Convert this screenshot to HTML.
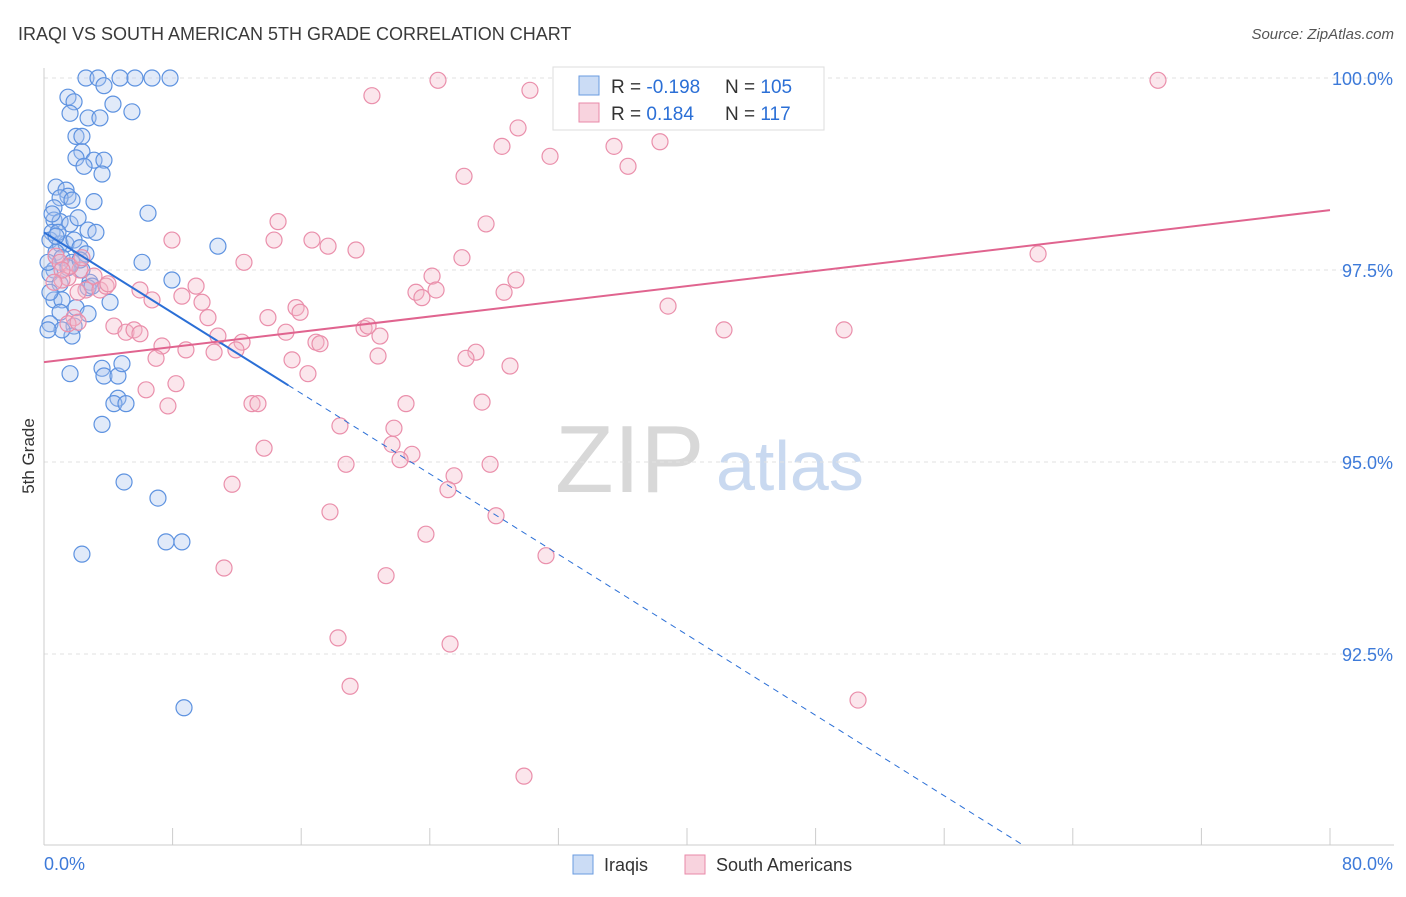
<!DOCTYPE html>
<html><head><meta charset="utf-8"><style>
body{margin:0;background:#fff;font-family:"Liberation Sans",sans-serif;}
svg text{font-family:"Liberation Sans",sans-serif;}
</style></head><body>
<svg id="chart" width="1406" height="892" viewBox="0 0 1406 892" xmlns="http://www.w3.org/2000/svg">
<text x="18" y="40" font-size="18" fill="#3a3a3a">IRAQI VS SOUTH AMERICAN 5TH GRADE CORRELATION CHART</text>
<text x="1394" y="39" font-size="15" fill="#555" font-style="italic" text-anchor="end">Source: ZipAtlas.com</text>
<text x="34" y="456" font-size="17" fill="#333" transform="rotate(-90 34 456)" text-anchor="middle">5th Grade</text>
<g>
<text x="555" y="492" font-size="96" fill="#d8d8d8" font-family="Liberation Serif,serif">ZIP</text>
<text x="716" y="490" font-size="70" fill="#c9d9f0">atlas</text>
</g>
<g id="grid"></g><g id="axes"></g><g id="pts"></g><g id="trend"></g>
<g>
<rect x="553" y="67" width="271" height="63" fill="#fff" stroke="#ddd"/>
<rect x="579" y="76" width="20" height="19" fill="#a9c4ee" fill-opacity="0.6" stroke="#6a9be0"/>
<text x="611" y="93" font-size="19" fill="#333">R = <tspan fill="#2b6fd6">-0.198</tspan></text>
<text x="725" y="93" font-size="19" fill="#333">N = <tspan fill="#2b6fd6">105</tspan></text>
<rect x="579" y="103" width="20" height="19" fill="#f4b6c8" fill-opacity="0.6" stroke="#e98aa8"/>
<text x="611" y="120" font-size="19" fill="#333">R = <tspan fill="#2b6fd6"> 0.184</tspan></text>
<text x="725" y="120" font-size="19" fill="#333">N = <tspan fill="#2b6fd6"> 117</tspan></text>
</g>
<g>
<rect x="573" y="855" width="20" height="19" fill="#a9c4ee" fill-opacity="0.6" stroke="#6a9be0"/>
<text x="604" y="871" font-size="18" fill="#333">Iraqis</text>
<rect x="685" y="855" width="20" height="19" fill="#f4b6c8" fill-opacity="0.6" stroke="#e98aa8"/>
<text x="716" y="871" font-size="18" fill="#333">South Americans</text>
</g>
</svg>
<script>
const yTicks=[100,97.5,95,92.5];
const yTickLabels=["100.0%","97.5%","95.0%","92.5%"];
const xTickValues=[0,8,16,24,32,40,48,56,64,72,80];
const xEndLabels=["0.0%","80.0%"];
const iraqiX=[2.61,3.36,4.73,5.66,6.72,7.84,3.73,1.49,1.87,4.29,5.47,1.62,2.74,3.48,1.99,2.36,2.36,1.99,3.11,3.73,2.49,3.61,0.75,1.37,1.49,1.00,1.74,3.11,6.47,0.62,0.62,1.00,1.62,2.12,2.74,3.23,0.50,0.37,1.00,1.37,1.87,2.24,2.61,0.75,1.12,1.74,2.36,0.62,0.37,2.86,6.10,7.96,10.82,1.00,2.74,4.11,0.62,1.12,0.37,1.99,2.74,1.00,0.37,1.87,1.74,1.12,0.25,1.62,3.61,3.73,4.60,4.85,4.60,4.35,5.10,3.61,4.98,7.09,7.59,8.58,2.36,8.71,0.50,0.87,1.49,2.24,2.99,0.25,0.75];
const iraqiY=[100,100,100,100,100,100,99.90,99.75,99.69,99.66,99.56,99.54,99.48,99.48,99.24,99.24,99.04,98.96,98.93,98.93,98.85,98.75,98.58,98.54,98.46,98.44,98.41,98.39,98.24,98.31,98.15,98.13,98.10,98.18,98.02,97.99,97.99,97.89,97.84,97.84,97.89,97.79,97.71,97.73,97.66,97.60,97.50,97.50,97.45,97.34,97.60,97.37,97.81,97.32,97.27,97.08,97.11,97.11,97.21,97.01,96.93,96.95,96.80,96.77,96.64,96.72,96.72,96.15,96.22,96.12,96.12,96.28,95.83,95.76,95.76,95.49,94.74,94.53,93.96,93.96,93.80,91.80,98.23,97.99,97.53,97.63,97.29,97.60,97.94];
const saX=[24.51,32.60,69.30,35.33,37.33,30.23,20.40,40.44,29.49,28.49,31.48,35.46,38.32,36.33,26.13,27.50,14.56,14.31,16.67,7.96,17.67,19.41,12.44,26.00,61.84,24.14,29.36,23.14,24.39,28.62,23.51,9.46,8.58,9.83,6.72,15.68,15.93,13.93,10.20,38.82,42.30,49.77,19.91,20.16,20.90,15.05,16.92,17.17,10.82,12.32,4.35,5.10,5.60,5.97,7.34,8.83,10.58,11.94,20.78,15.43,16.42,6.97,26.87,26.25,28.99,8.21,6.35,7.71,12.94,13.31,22.52,27.25,18.41,21.77,13.69,21.65,22.89,22.15,18.79,27.75,25.51,25.13,11.70,17.79,28.12,23.76,31.23,11.20,21.28,18.29,25.26,19.04,50.64,29.86,2.24,1.49,3.11,2.61,3.48,3.86,1.62,1.12,2.12,1.87,1.49,2.12,0.75,1.00,1.12,2.36,0.62,5.97,3.98];
const saY=[99.97,100,99.97,100,99.74,99.84,99.77,99.43,99.35,99.11,98.98,99.11,99.17,98.85,98.72,98.10,98.13,97.89,97.89,97.89,97.81,97.76,97.60,97.66,97.71,97.42,97.37,97.21,97.24,97.21,97.14,97.29,97.16,97.08,97.11,97.01,96.95,96.88,96.88,97.03,96.72,96.72,96.74,96.77,96.64,96.69,96.56,96.54,96.64,96.56,96.77,96.69,96.72,96.67,96.51,96.46,96.43,96.46,96.38,96.33,96.15,96.35,96.43,96.35,96.25,96.02,95.94,95.73,95.76,95.76,95.76,95.78,95.47,95.44,95.18,95.23,95.10,95.03,94.97,94.97,94.82,94.64,94.71,94.35,94.30,94.06,93.78,93.62,93.52,92.71,92.63,92.08,91.90,90.91,97.50,97.40,97.42,97.24,97.24,97.29,97.55,97.37,97.21,96.88,96.80,96.82,97.68,97.60,97.50,97.66,97.34,97.24,97.32];
const iraqiTrend=[97.99,-0.131,15.2];   // intercept, slope, solid-end x
const saTrend=[96.30,0.02475];          // intercept, slope

const NS="http://www.w3.org/2000/svg";
const X0=44,X1=1330,Y0=845,YTOP=68;
const sx=v=>X0+(v/80)*(X1-X0);
const sy=v=>78+(100-v)*76.8;
function mk(tag,attrs,parent){const e=document.createElementNS(NS,tag);for(const k in attrs)e.setAttribute(k,attrs[k]);document.getElementById(parent).appendChild(e);return e;}

yTicks.forEach((t,i)=>{
  const g=mk('line',{x1:X0,x2:1394,y1:sy(t),y2:sy(t),stroke:'#e2e2e2','stroke-dasharray':'4,4'},'grid');
  
  
  const l=mk('text',{x:1393,y:sy(t)+7,'font-size':18,fill:'#3d7ad9','text-anchor':'end'},'axes');
  l.textContent=yTickLabels[i];
  
  
});
const ya=mk('line',{x1:X0,x2:X0,y1:YTOP,y2:Y0,stroke:'#ccc'},'axes');


const xa=mk('line',{x1:X0,x2:1394,y1:Y0,y2:Y0,stroke:'#ccc'},'axes');


xTickValues.forEach(v=>{
  const t=mk('line',{x1:sx(v),x2:sx(v),y1:828,y2:Y0,stroke:'#ccc'},'axes');
  
  
});
const xl0=mk('text',{x:44,y:870,'font-size':18,fill:'#3d7ad9'},'axes');
xl0.textContent=xEndLabels[0];


const xl1=mk('text',{x:1393,y:870,'font-size':18,fill:'#3d7ad9','text-anchor':'end'},'axes');
xl1.textContent=xEndLabels[1];



iraqiX.forEach((x,i)=>{
  const c=mk('circle',{cx:sx(x),cy:sy(iraqiY[i]),r:8,fill:'#a9c4ee','fill-opacity':0.35,stroke:'#5d92e0','stroke-width':1.2},'pts');
  
  
});
saX.forEach((x,i)=>{
  const c=mk('circle',{cx:sx(x),cy:sy(saY[i]),r:8,fill:'#f4b6c8','fill-opacity':0.35,stroke:'#ea8fab','stroke-width':1.2},'pts');
  
  
});
const bf=x=>iraqiTrend[0]+iraqiTrend[1]*x;
const xEnd=(90-iraqiTrend[0])/iraqiTrend[1];
const b1=mk('line',{x1:sx(0),y1:sy(bf(0)),x2:sx(iraqiTrend[2]),y2:sy(bf(iraqiTrend[2])),stroke:'#2b6fd6','stroke-width':2},'trend');


const b2=mk('line',{x1:sx(iraqiTrend[2]),y1:sy(bf(iraqiTrend[2])),x2:sx(xEnd),y2:sy(bf(xEnd)),stroke:'#2b6fd6','stroke-width':1,'stroke-dasharray':'6,5'},'trend');


const pf=x=>saTrend[0]+saTrend[1]*x;
const p1=mk('line',{x1:sx(0),y1:sy(pf(0)),x2:sx(80),y2:sy(pf(80)),stroke:'#e0648f','stroke-width':2},'trend');


</script>
</body></html>
